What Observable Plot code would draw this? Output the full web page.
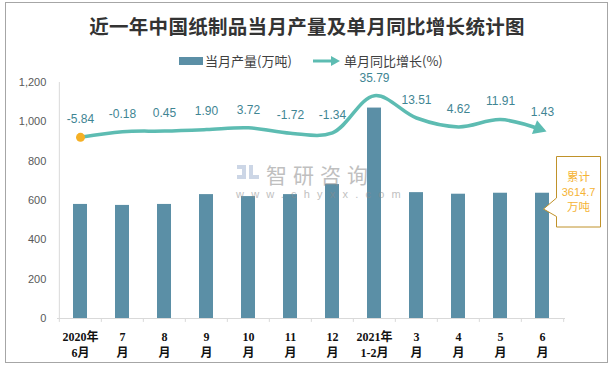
<!DOCTYPE html>
<html><head><meta charset="utf-8">
<script src="https://cdn.jsdelivr.net/npm/d3@7"></script>
<script src="https://cdn.jsdelivr.net/npm/@observablehq/plot@0.6"></script>
<style>
html,body{margin:0;padding:0;background:#fff;}
#wrap{position:relative;width:614px;height:368px;overflow:hidden;font-family:"Noto Sans CJK SC","Liberation Sans",sans-serif;}
#border{position:absolute;left:5px;top:2px;width:603px;height:361px;border:1px solid #a6a6a6;box-sizing:border-box;}
#title{position:absolute;left:0;top:11px;width:614px;text-align:center;font-size:19.5px;font-weight:700;color:#333;font-family:"Noto Sans CJK SC",serif;letter-spacing:0.3px;}
#legend{position:absolute;top:52px;left:0;width:614px;height:18px;font-size:13px;color:#404040;}
#plot{position:absolute;left:0;top:70px;}
.wm{position:absolute;color:#8c8c8c;opacity:0.55;white-space:nowrap;line-height:1;}
</style></head>
<body>
<div id="wrap">
  <div id="border"></div>
  <div id="title">近一年中国纸制品当月产量及单月同比增长统计图</div>
  <div id="legend">
    <div style="position:absolute;left:179px;top:5px;width:24px;height:8px;background:#5b8fa6"></div>
    <div style="position:absolute;left:205px;top:-1px;">当月产量(万吨)</div>
    <svg style="position:absolute;left:313px;top:3px" width="28" height="12"><line x1="0" y1="6" x2="20" y2="6" stroke="#5dbcb2" stroke-width="3"/><path d="M18,1 L27,6 L18,11 Z" fill="#5dbcb2"/></svg>
    <div style="position:absolute;left:344px;top:-1px;">单月同比增长(%)</div>
  </div>
  <div id="plot"></div>
  <div class="wm" style="left:266px;top:164px;font-size:21px;letter-spacing:6px;">智研咨询</div>
  <div class="wm" style="left:236px;top:189px;font-size:11px;letter-spacing:7.2px;font-family:'Liberation Sans',sans-serif;">www.chyxx.com</div>
  <svg class="wm" style="left:237px;top:165px;opacity:0.45" width="22" height="18"><rect x="0" y="0" width="9" height="4" fill="#8fa6c8"/><rect x="5" y="4" width="4" height="6" fill="#8fa6c8"/><rect x="0" y="10" width="9" height="4" fill="#8fa6c8"/><rect x="12" y="0" width="4" height="14" fill="#8fa6c8"/><rect x="12" y="10" width="10" height="4" fill="#8fa6c8"/></svg>
  <svg style="position:absolute;left:540px;top:150px" width="70" height="85">
    <path d="M16.5,6.5 H60.5 V77 H16.5 V66.5 L3.5,59 L16.5,48 Z" fill="#fff" stroke="#c0922a" stroke-width="1"/>
    <text x="38.5" y="31" text-anchor="middle" font-size="11.5" fill="#f5b335" font-family="Noto Sans CJK SC">累计</text>
    <text x="38.5" y="46" text-anchor="middle" font-size="11" fill="#f5b335" font-family="Liberation Sans">3614.7</text>
    <text x="38.5" y="61" text-anchor="middle" font-size="11.5" fill="#f5b335" font-family="Noto Sans CJK SC">万吨</text>
  </svg>
</div>
<script>
// Data
const categories = ["2020年\n6月","7\n月","8\n月","9\n月","10\n月","11\n月","12\n月","2021年\n1-2月","3\n月","4\n月","5\n月","6\n月"];
const production = [580, 575, 580, 630, 620, 630, 681, 1070, 640, 632, 637, 637];
const growth = [-5.84, -0.18, 0.45, 1.90, 3.72, -1.72, -1.34, 35.79, 13.51, 4.62, 11.91, 1.43];
const yTicks = [0, 200, 400, 600, 800, 1000, 1200];
const secondaryDomain = [-187, 49]; // hidden secondary axis for growth (%)

const y2 = d3.scaleLinear().domain(secondaryDomain).range([0, 1200]);
const rows = categories.map((c, i) => ({cat: c, prod: production[i], g: growth[i], gy: y2(growth[i]), label: growth[i].toFixed(2)}));

const W = 614, H = 295, mL = 57, mR = 49;
const half = (W - mL - mR) / categories.length / 2;
const teal = "#5dbcb2";
const first = categories[0], last = categories[categories.length - 1];

const chart = Plot.plot({
  width: W, height: H,
  marginLeft: mL, marginRight: mR, marginTop: 12, marginBottom: 47,
  x: {type: "band", domain: categories, paddingInner: 0.67, paddingOuter: 0.335, axis: null},
  y: {domain: [0, 1200], axis: null},
  style: {fontFamily: "Liberation Sans, sans-serif", background: "transparent", overflow: "visible"},
  marks: [
    Plot.barY(rows, {x: "cat", y: "prod", fill: "#5b8fa6"}),
    Plot.ruleY([0], {stroke: "#d9d9d9"}),
    Plot.ruleX([first], {x: d => d, dx: -half, y1: 0, y2: 1200, stroke: "#d9d9d9"}),
    Plot.ruleX(categories, {x: d => d, dx: -half, y1: 0, y2: -20, stroke: "#d9d9d9"}),
    Plot.ruleX([last], {x: d => d, dx: half, y1: 0, y2: -20, stroke: "#d9d9d9"}),
    Plot.text(yTicks, {x: () => first, y: d => d, text: d => d3.format(",")(d), textAnchor: "end", dx: -half - 13, fill: "#595959", fontSize: 11}),
    Plot.text(categories, {x: d => d, y: () => 0, text: d => d, dy: 25, lineAnchor: "middle", lineHeight: 1.33, fontSize: 12, fontWeight: "bold", fill: "#111", fontFamily: "Liberation Serif, Noto Sans CJK SC, serif"}),
    Plot.line(rows, {x: "cat", y: "gy", stroke: teal, strokeWidth: 3.5, curve: "catmull-rom"}),
    Plot.dot([rows[rows.length - 1]], {x: "cat", y: "gy", symbol: "triangle", r: 5.5, fill: teal, rotate: 110, dx: -4, dy: -1.5}),
    Plot.dot([rows[0]], {x: "cat", y: "gy", r: 4.5, fill: "#f5b025"}),
    Plot.text(rows, {x: "cat", y: "gy", text: "label", dy: -18, fill: "#3f8593", fontSize: 12})
  ]
});
document.getElementById("plot").appendChild(chart);
</script>
</body></html>
